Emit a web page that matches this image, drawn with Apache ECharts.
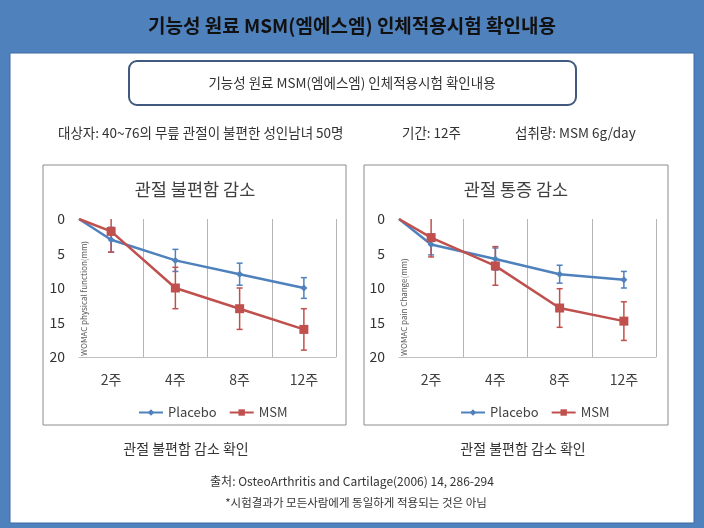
<!DOCTYPE html>
<html>
<head>
<meta charset="utf-8">
<script src="https://cdn.jsdelivr.net/npm/echarts@6/dist/echarts.min.js"></script>
<style>
  html, body { margin: 0; padding: 0; }
  #main { width: 704px; height: 528px; }
</style>
</head>
<body>
<div id="main"></div>
<script>
// 데이터
var weeks = ['2주', '4주', '8주', '12주'];
var yTicks = [0, 5, 10, 15, 20];
// 관절 불편함 감소 (WOMAC physical function)
var funcPlacebo = [3, 6, 8, 10];
var funcPlaceboErr = [1.8, 1.6, 1.6, 1.5];
var funcMsm = [1.8, 10, 13, 16];
var funcMsmErr = [3, 3, 3, 3];
// 관절 통증 감소 (WOMAC pain change)
var painPlacebo = [3.7, 5.8, 8, 8.8];
var painPlaceboErr = [1.5, 1.6, 1.3, 1.2];
var painMsm = [2.7, 6.8, 12.9, 14.8];
var painMsmErr = [2.8, 2.8, 2.8, 2.8];

var FONT = '"Noto Sans CJK KR", "Noto Sans", sans-serif';
var BLUE = '#4f81bd', RED = '#c0504d';

var chart = echarts.init(document.getElementById('main'));

// 시작점(0) + 각 주차 카테고리 중앙
function lineData (vals) {
  var d = [{ value: [0, 0], symbol: 'none' }];
  vals.forEach(function (v, i) { d.push([i + 0.5, v]); });
  return d;
}
function errData (vals, errs) {
  return vals.map(function (v, i) { return [i + 0.5, v - errs[i], v + errs[i]]; });
}
function renderErr (params, api) {
  var x = api.value(0), lo = api.value(1), hi = api.value(2);
  var color = api.visual('color');
  var top = api.coord([x, Math.max(0, lo)]);
  var bot = api.coord([x, hi]);
  var st = { stroke: color, lineWidth: 1.5 };
  var kids = [{ type: 'line', shape: { x1: top[0], y1: top[1], x2: bot[0], y2: bot[1] }, style: st },
    { type: 'line', shape: { x1: bot[0] - 3, y1: bot[1], x2: bot[0] + 3, y2: bot[1] }, style: st }];
  if (lo >= 0) kids.push({ type: 'line', shape: { x1: top[0] - 3, y1: top[1], x2: top[0] + 3, y2: top[1] }, style: st });
  return { type: 'group', children: kids };
}

function catAxis (gi) {
  return {
    gridIndex: gi, type: 'category', data: weeks, boundaryGap: true, position: 'bottom',
    axisLine: { onZero: false, lineStyle: { color: '#bfbfbf' } },
    axisTick: { show: false },
    axisLabel: { fontSize: 14, color: '#404040', margin: 16, fontFamily: FONT },
    splitLine: { show: true, interval: function (i) { return i !== 0; }, lineStyle: { color: '#b4b4b4' } }
  };
}
function valAxis (gi) {
  return {
    gridIndex: gi, type: 'value', inverse: true, min: 0, max: 20, interval: 5,
    axisLine: { show: false }, axisTick: { show: false }, splitLine: { show: false },
    axisLabel: { fontSize: 14, color: '#333', margin: 14, fontFamily: FONT,
      formatter: function (v) { return yTicks.indexOf(v) >= 0 ? v : ''; } }
  };
}
function lineSeries (name, xi, yi, vals, color, symbol, size) {
  return {
    name: name, type: 'line', xAxisIndex: xi, yAxisIndex: yi, data: lineData(vals),
    symbol: symbol, symbolSize: size, color: color,
    lineStyle: { width: 2.5, color: color }, itemStyle: { color: color }, animation: false
  };
}
function errSeries (xi, yi, vals, errs, color) {
  return {
    type: 'custom', xAxisIndex: xi, yAxisIndex: yi, data: errData(vals, errs),
    encode: { x: 0, y: [1, 2] }, itemStyle: { color: color }, renderItem: renderErr, z: 3, animation: false
  };
}
function text (x, y, str, size, align, extra) {
  var s = { text: str, x: x, y: y, fill: '#333', fontSize: size, fontFamily: FONT, textAlign: align || 'center', textVerticalAlign: 'middle' };
  if (extra) for (var k in extra) s[k] = extra[k];
  return { type: 'text', style: s, z: 10 };
}
// 세로 축 제목 (플롯 안쪽, 아래에서 위로)
function axisName (x, y, str) {
  var t = text(0, 0, str, 8, 'left', { fill: '#595959' });
  t.x = x; t.y = y; t.rotation = Math.PI / 2;
  return t;
}

var option = {
  backgroundColor: '#4f81bd',
  animation: false,
  graphic: [
    { type: 'rect', shape: { x: 10, y: 53, width: 684, height: 470 }, style: { fill: '#fff', stroke: '#3d6aa3', lineWidth: 1 }, z: -10 },
    { type: 'rect', shape: { x: 129, y: 61, width: 447, height: 44, r: 8 }, style: { fill: '#fff', stroke: '#41597e', lineWidth: 2 }, z: -5 },
    { type: 'rect', shape: { x: 43, y: 165, width: 303, height: 260 }, style: { fill: '#fff', stroke: '#8c8c8c', lineWidth: 1 }, z: -5 },
    { type: 'rect', shape: { x: 364, y: 165, width: 304, height: 260 }, style: { fill: '#fff', stroke: '#8c8c8c', lineWidth: 1 }, z: -5 },
    text(352, 26, '기능성 원료 MSM(엠에스엠) 인체적용시험 확인내용', 19, 'center', { fill: '#111', fontWeight: 'bold' }),
    text(352, 83, '기능성 원료 MSM(엠에스엠) 인체적용시험 확인내용', 13.5, 'center'),
    text(58, 133, '대상자: 40~76의 무릎 관절이 불편한 성인남녀 50명', 13.5, 'left'),
    text(402, 133, '기간: 12주', 13.5, 'left'),
    text(515, 133, '섭취량: MSM 6g/day', 13.5, 'left'),
    text(195, 189, '관절 불편함 감소', 17.5, 'center', { fill: '#404040' }),
    text(516, 189, '관절 통증 감소', 17.5, 'center', { fill: '#404040' }),
    text(186, 449, '관절 불편함 감소 확인', 14, 'center'),
    text(523, 449, '관절 불편함 감소 확인', 14, 'center'),
    text(352, 481, '출처: OsteoArthritis and Cartilage(2006) 14, 286-294', 12, 'center'),
    text(356, 503, '*시험결과가 모든사람에게 동일하게 적용되는 것은 아님', 11.5, 'center'),
    axisName(84, 356, 'WOMAC physical function(mm)'),
    axisName(404, 356, 'WOMAC pain Change(mm)')
  ],
  legend: [
    { data: ['Placebo', 'MSM'], left: 133, top: 401, itemWidth: 24, itemHeight: 8, itemGap: 12,
      textStyle: { fontSize: 13, color: '#404040', fontFamily: FONT } },
    { data: ['Placebo', 'MSM'], left: 455, top: 401, itemWidth: 24, itemHeight: 8, itemGap: 12,
      textStyle: { fontSize: 13, color: '#404040', fontFamily: FONT } }
  ],
  grid: [
    { left: 79, top: 219, width: 257, height: 138 },
    { left: 399, top: 219, width: 257, height: 138 }
  ],
  xAxis: [
    catAxis(0),
    { gridIndex: 0, type: 'value', min: 0, max: 4, show: false },
    catAxis(1),
    { gridIndex: 1, type: 'value', min: 0, max: 4, show: false }
  ],
  yAxis: [valAxis(0), valAxis(1)],
  series: [
    errSeries(1, 0, funcPlacebo, funcPlaceboErr, BLUE),
    errSeries(1, 0, funcMsm, funcMsmErr, RED),
    lineSeries('Placebo', 1, 0, funcPlacebo, BLUE, 'diamond', 7),
    lineSeries('MSM', 1, 0, funcMsm, RED, 'rect', 9),
    errSeries(3, 1, painPlacebo, painPlaceboErr, BLUE),
    errSeries(3, 1, painMsm, painMsmErr, RED),
    lineSeries('Placebo', 3, 1, painPlacebo, BLUE, 'diamond', 7),
    lineSeries('MSM', 3, 1, painMsm, RED, 'rect', 9)
  ]
};
chart.setOption(option);
</script>
</body>
</html>
